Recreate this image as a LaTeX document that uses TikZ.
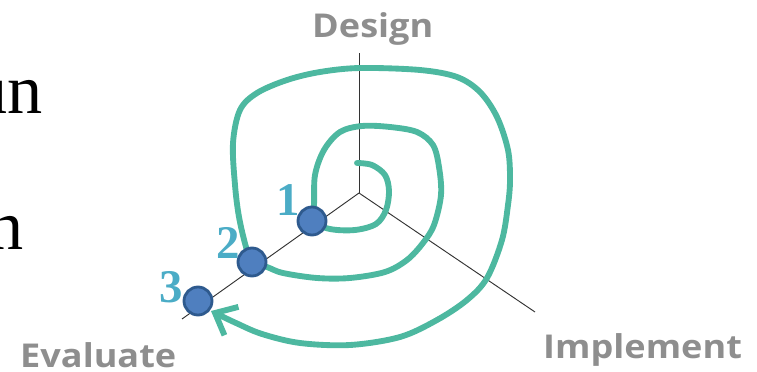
\documentclass[tikz,border=0pt]{standalone}
\usepackage{fontspec}
\usetikzlibrary{arrows.meta}
\newfontfamily\labelfont[FakeStretch=1.1]{Open Sans}
\newfontfamily\serifnum{Liberation Serif}
\definecolor{axiscol}{HTML}{333333}
\definecolor{spiralcol}{HTML}{4DB8A0}
\definecolor{stagefill}{HTML}{4F7FBF}
\definecolor{stageline}{HTML}{2E5A8E}
\definecolor{numcol}{HTML}{4BACC6}
\definecolor{phasecol}{HTML}{8E8E8E}

\begin{document}
\begin{tikzpicture}[x=0.03cm,y=-0.03cm,
	axis/.style={draw=axiscol,line width=0.8pt},
	spiral/.style={draw=spiralcol,line width=5pt,line cap=round,line join=round},
	stage/.style={circle,fill=stagefill,draw=stageline,line width=2.4pt,minimum size=0.84cm,inner sep=0pt},
	stagenum/.style={font=\serifnum\bfseries\fontsize{40}{40}\selectfont,text=numcol,inner sep=0pt},
	phase/.style={font=\labelfont\bfseries\fontsize{28}{28}\selectfont,text=phasecol,inner sep=0pt,anchor=base west},
	cut/.style={font=\serifnum\fontsize{60}{60}\selectfont,inner sep=0pt,anchor=base east}]
\useasboundingbox (0,0) rectangle (757,372);

% text cut off at the left edge
\node[cut] (cuta) at (43,114) {un};
\node[cut] (cutb) at (24,249) {n};

% axes
\coordinate (o) at (359,193);
\node[phase] (design) at (312,38) {Design};
\node[phase] (implement) at (543,358) {Implement};
\node[phase] (evaluate) at (20,367) {Evaluate};
\coordinate (dend) at (359,53);
\coordinate (iend) at (535,312);
\coordinate (eend) at (182,319);
\draw[axis] (o) -- (dend);
\draw[axis] (o) -- (iend);
\draw[axis] (o) -- (eend);

\foreach \px/\py [count=\i] in {312/221, 252/262, 198/301}
	\coordinate (p\i) at (\px,\py);

% the spiral
\draw[spiral,-{Straight Barb[length=0.55cm,width=0.95cm]}] plot[smooth,tension=0.55] coordinates {
	(357,163) (372,165) (385,175) (389,191) (386,210) (376,224) (355,230) (330,229) (p1)
	(314,205) (315,175) (324,150) (340,132) (362,126) (390,127) (417,132) (433,145)
	(439,167) (441,195) (434,225) (423,243) (407,260) (385,272) (350,278) (317,278)
	(283,273) (267,267) (p2) (246,247) (239,217) (235,185) (233,143) (240,110) (257,93)
	(287,80) (320,72) (360,68) (420,70) (457,77) (480,92) (497,117) (508,150) (510,180)
	(508,205) (502,240) (487,278) (467,300) (437,320) (400,337) (350,345) (300,343)
	(262,334) (236,323) (211,311)};

% iterations
\foreach \dx/\dy [count=\i] in {-24/-21, -24/-19, -27/-14}{
	\node[stage] (s\i) at (p\i) {};
	\node[stagenum] (n\i) at ([xshift=\dx*0.03cm,yshift=-\dy*0.03cm]p\i) {\i};
	}
\end{tikzpicture}
\end{document}
